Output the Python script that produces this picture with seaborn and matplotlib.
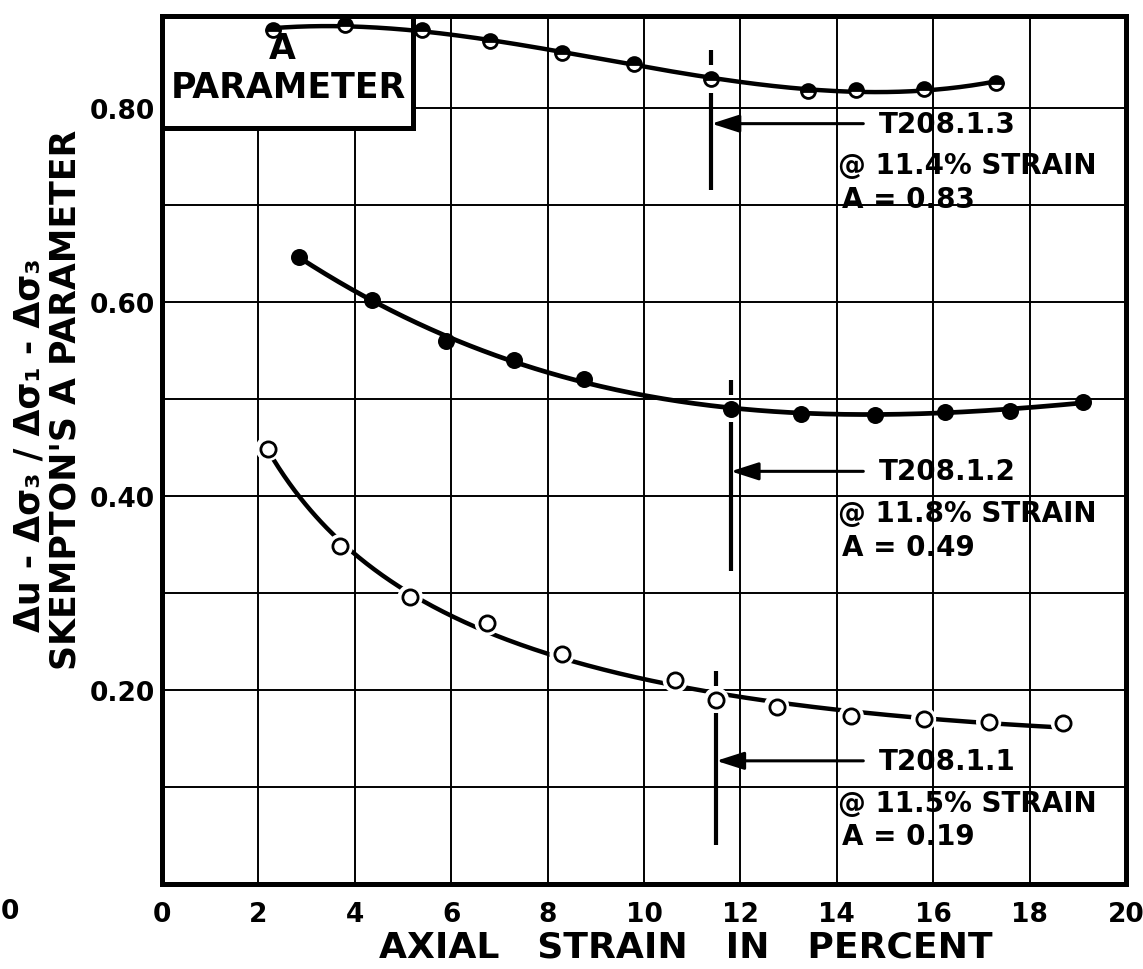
import numpy as np
import pandas as pd
import matplotlib
matplotlib.use("Agg")
import matplotlib.pyplot as plt
from matplotlib.patches import Rectangle
import seaborn as sns

# ---- data -------------------------------------------------------------
# Test T208.1.3 (half-filled circles)
strain_t3 = [2.3, 3.8, 5.4, 6.8, 8.3, 9.8, 11.4, 13.4, 14.4, 15.8, 17.3]
a_t3 = [0.881, 0.886, 0.881, 0.869, 0.857, 0.845, 0.830, 0.818, 0.819, 0.820, 0.826]

# Test T208.1.2 (solid circles)
strain_t2 = [2.85, 4.35, 5.9, 7.3, 8.75, 11.8, 13.25, 14.8, 16.25, 17.6, 19.1]
a_t2 = [0.647, 0.602, 0.560, 0.540, 0.521, 0.490, 0.485, 0.484, 0.487, 0.488, 0.497]

# Test T208.1.1 (open circles)
strain_t1 = [2.2, 3.7, 5.15, 6.75, 8.3, 10.65, 11.5, 12.75, 14.3, 15.8, 17.15, 18.7]
a_t1 = [0.449, 0.348, 0.296, 0.269, 0.237, 0.210, 0.190, 0.183, 0.173, 0.170, 0.167, 0.166]

# strain and A value picked out for each test
test_names = ["T208.1.3", "T208.1.2", "T208.1.1"]
pick_strain = [11.4, 11.8, 11.5]
pick_a = [0.83, 0.49, 0.19]

x_ticks = [0, 2, 4, 6, 8, 10, 12, 14, 16, 18, 20]
x_tick_labels = ["0", "2", "4", "6", "8", "10", "12", "14", "16", "18", "20"]
y_ticks = [0.1, 0.2, 0.3, 0.4, 0.5, 0.6, 0.7, 0.8]
y_tick_labels = ["", "0.20", "", "0.40", "", "0.60", "", "0.80"]

# ---- style ------------------------------------------------------------
sns.set_theme(style="white")
plt.rcParams["font.family"] = ["DejaVu Sans"]
plt.rcParams["font.weight"] = "bold"
for key in ["text.color", "axes.labelcolor", "xtick.color", "ytick.color",
            "axes.edgecolor"]:
    plt.rcParams[key] = "black"

ink = "black"

W, H = 1143, 970
fig = plt.figure(figsize=(W / 100, H / 100), dpi=100)
ax = fig.add_axes([162 / W, 1 - 885 / H, (1126 - 162) / W, (885 - 17) / H])
ax.set_xlim(0, 20)
ax.set_ylim(0, 0.895)

ax.set_xticks(x_ticks)
ax.set_xticklabels(x_tick_labels, fontsize=19, fontweight="bold", color=ink)
ax.set_yticks(y_ticks)
ax.set_yticklabels(y_tick_labels, fontsize=19, fontweight="bold", color=ink)
ax.tick_params(axis="both", length=0, colors=ink)
ax.tick_params(axis="x", pad=12)
ax.tick_params(axis="y", pad=5)
ax.set_axisbelow(True)
ax.grid(True, color=ink, linewidth=1.4)
for sp in ax.spines.values():
    sp.set_visible(True)
    sp.set_color(ink)
    sp.set_linewidth(3.6)
    sp.set_zorder(10)


def smooth_fit(x, y, deg, logx=False):
    x = np.asarray(x, dtype=float)
    y = np.asarray(y, dtype=float)
    xs = np.linspace(x.min(), x.max(), 300)
    if logx:
        coef = np.polyfit(np.log(x), y, deg)
        ys = np.polyval(coef, np.log(xs))
    else:
        coef = np.polyfit(x, y, deg)
        ys = np.polyval(coef, xs)
    return pd.DataFrame({"strain": xs, "A": ys})


# "A PARAMETER" title box in the upper left corner
box = Rectangle((0, 0.780), 5.21, 0.2, facecolor="white", edgecolor=ink,
                linewidth=3.6, zorder=2, clip_on=True)
ax.add_patch(box)
ax.text(2.5, 0.862, "A", fontsize=25, fontweight="bold", ha="center",
        va="center", zorder=2.5, color=ink)
ax.text(2.62, 0.822, "PARAMETER", fontsize=25, fontweight="bold",
        ha="center", va="center", zorder=2.5, color=ink)

# fitted curves
sns.lineplot(data=smooth_fit(strain_t3, a_t3, 3), x="strain", y="A",
             color=ink, linewidth=3.2, ax=ax, zorder=3, sort=True)
sns.lineplot(data=smooth_fit(strain_t2, a_t2, 3), x="strain", y="A",
             color=ink, linewidth=3.4, ax=ax, zorder=3, sort=True)
sns.lineplot(data=smooth_fit(strain_t1, a_t1, 3, logx=True), x="strain", y="A",
             color=ink, linewidth=3.2, ax=ax, zorder=3, sort=True)

# T208.1.3 : half-filled markers
sns.lineplot(x=strain_t3, y=a_t3, ax=ax, linestyle="", marker="o",
             markersize=10, fillstyle="top", markerfacecolor=ink,
             markerfacecoloralt="white", markeredgecolor=ink,
             markeredgewidth=2.0, zorder=5)

# T208.1.2 : solid markers
sns.scatterplot(x=strain_t2, y=a_t2, ax=ax, s=150, color=ink,
                edgecolor=ink, linewidth=0, zorder=5)

# T208.1.1 : open markers with a small gap in the curve around each one
sns.scatterplot(x=strain_t1, y=a_t1, ax=ax, s=330, color="white",
                edgecolor="none", linewidth=0, zorder=4)
sns.scatterplot(x=strain_t1, y=a_t1, ax=ax, s=120, color="white",
                edgecolor=ink, linewidth=2.0, zorder=5)

# marker bars, arrows and captions for each picked point
bar_low = [0.114, 0.167, 0.150]      # length of the bar below the point
arrow_drop = [0.046, 0.0645, 0.063]  # arrow height below the point
for name, s, a, low, drop in zip(test_names, pick_strain, pick_a,
                                 bar_low, arrow_drop):
    ax.plot([s, s], [a + 0.014, a + 0.030], color=ink, linewidth=3.0,
            solid_capstyle="butt", zorder=6)
    ax.plot([s, s], [a - 0.014, a - low], color=ink, linewidth=3.0,
            solid_capstyle="butt", zorder=6)
    ya = a - drop
    ax.annotate("", xy=(s, ya), xytext=(14.55, ya),
                arrowprops=dict(arrowstyle="-|>,head_length=1.4,head_width=0.45",
                                color=ink, lw=2.2, shrinkA=0, shrinkB=0),
                zorder=6)
    ax.text(14.88, ya, name, fontsize=20, fontweight="bold", ha="left",
            va="center", zorder=7, color=ink)
    ax.text(14.03, ya - 0.043, f"@ {s:.1f}% STRAIN", fontsize=20,
            fontweight="bold", ha="left", va="center", zorder=7, color=ink)
    ax.text(14.1, ya - 0.078, f"A = {a:.2f}", fontsize=20,
            fontweight="bold", ha="left", va="center", zorder=7, color=ink)

ax.set_xlabel("")
ax.set_ylabel("")

# axis titles
fig.text(686 / W, 1 - 948 / H, "AXIAL   STRAIN   IN   PERCENT", fontsize=26,
         fontweight="bold", ha="center", va="center", color=ink)
fig.text(66 / W, 1 - 400 / H, "SKEMPTON'S A PARAMETER", fontsize=25,
         fontweight="bold", ha="center", va="center", rotation=90, color=ink)
fig.text(30 / W, 1 - 445 / H, "Δu - Δσ₃ / Δσ₁ - Δσ₃", fontsize=25,
         fontweight="bold", ha="center", va="center", rotation=90, color=ink)
fig.text(1 / W, 1 - 912 / H, "0", fontsize=19, fontweight="bold",
         ha="left", va="center", color=ink)

fig.savefig("out.png", dpi=100, facecolor="white")
